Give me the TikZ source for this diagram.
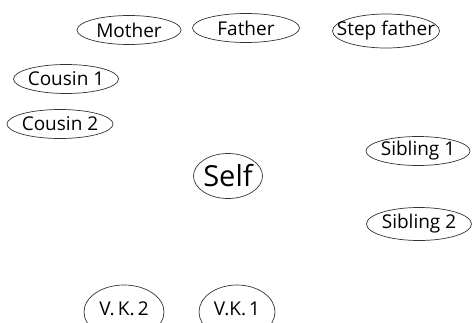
\documentclass[tikz,border=0pt]{standalone}
\usepackage{fontspec}
\setmainfont{Open Sans}
\usetikzlibrary{shapes.geometric}
% label set in a zero-width box so the ellipse keeps its own size
\newcommand\personlabel[1]{\makebox[0pt]{#1}}
\begin{document}
\begin{tikzpicture}[x=1pt,y=-1pt,
  person/.style={ellipse,draw=black!80,line width=0.7pt,inner sep=0pt,
    minimum width=#1,minimum height=29pt,font=\fontsize{19}{19}\selectfont},
  person/.default=104pt]
\useasboundingbox (0,0) rectangle (474,322);
\node[person=104pt] (mother) at (129,30) {\personlabel{Mother}};
\node[person=107pt] (father) at (246,28) {\personlabel{Father}};
\node[person=107pt,minimum height=34pt] (stepfather) at (386,31) {\personlabel{Step father}};
\node[person=105pt] (cousin1) at (66,79) {\personlabel{Cousin 1}};
\node[person=106pt] (cousin2) at (60,124) {\personlabel{Cousin 2}};
\node[person=69pt,minimum height=45pt,font=\fontsize{29}{29}\selectfont] (self) at (228,176) {\personlabel{Self}};
\node[person=104pt] (sibling1) at (418,151) {\personlabel{Sibling 1}};
\node[person=105pt,minimum height=33pt] (sibling2) at (419,224) {\personlabel{Sibling 2}};
\node[person=80pt,minimum height=54pt] (vk2) at (124,312) {\personlabel{\raisebox{7pt}{V.\,K.\,2}}};
\node[person=76pt,minimum height=54pt] (vk1) at (237,312) {\personlabel{\raisebox{7pt}{V.K.\,1}}};
\end{tikzpicture}
\end{document}
